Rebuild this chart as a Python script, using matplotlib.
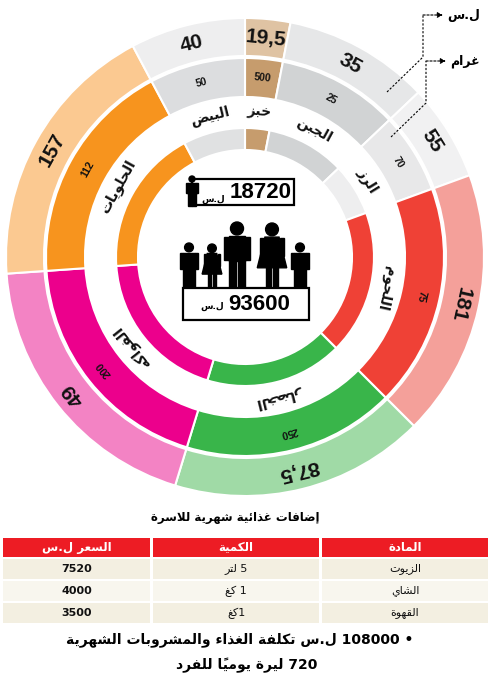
# -*- coding: utf-8 -*-

import numpy as np
import matplotlib
matplotlib.use("Agg")
import matplotlib.pyplot as plt
from matplotlib.patches import Circle, Polygon, Rectangle


W, H = 496, 676

# ring data, clockwise from the top
ITEMS = ['خبز', 'الجبن', 'الرز', 'اللحوم', 'الخضار', 'الفواكه', 'الحلويات', 'البيض']
PRICE_SYP = [19.5, 35, 55, 181, 87.5, 49, 157, 40]
GRAMS = [500, 25, 70, 75, 250, 200, 112, 50]
SHARE_DEG = [11, 35.5, 23.5, 65, 62, 69, 66, 28]

PERSON_MONTH = 18720
FAMILY_MONTH = 93600

# extras table
TABLE_HEAD = ['المادة', 'الكمية', 'السعر ل.س']
EXTRA_ITEMS = ['الزيوت', 'الشاي', 'القهوة']
EXTRA_QTY = ['5 لتر', '1 كغ', '1كغ']
EXTRA_PRICE = [7520, 4000, 3500]

TOTAL_MONTH = 108000
PER_DAY = 720

OUTER_COLORS = ['#dfc3a3', '#e6e7e8', '#f1f1f2', '#f4a09a',
                '#a0daa6', '#f383c4', '#fbc991', '#eeeeef']
MIDDLE_COLORS = ['#c69c6d', '#d1d3d4', '#e8e8e9', '#ef4136',
                 '#39b54a', '#ec008c', '#f7941e', '#dcdddf']
INNER_COLORS = ['#c69c6d', '#d1d3d4', '#eeeeef', '#ef4136',
                '#39b54a', '#ec008c', '#f7941e', '#e0e1e2']

AR_FONT = ['DejaVu Sans']
NUM_FONT = ['Liberation Sans', 'DejaVu Sans']

# --- minimal arabic shaping (matplotlib has no text shaping) ---------------
AR_FORMS = {
    'ء': (0xFE80, 1), 'آ': (0xFE81, 2), 'أ': (0xFE83, 2), 'ؤ': (0xFE85, 2),
    'إ': (0xFE87, 2), 'ئ': (0xFE89, 4), 'ا': (0xFE8D, 2), 'ب': (0xFE8F, 4),
    'ة': (0xFE93, 2), 'ت': (0xFE95, 4), 'ث': (0xFE99, 4), 'ج': (0xFE9D, 4),
    'ح': (0xFEA1, 4), 'خ': (0xFEA5, 4), 'د': (0xFEA9, 2), 'ذ': (0xFEAB, 2),
    'ر': (0xFEAD, 2), 'ز': (0xFEAF, 2), 'س': (0xFEB1, 4), 'ش': (0xFEB5, 4),
    'ص': (0xFEB9, 4), 'ض': (0xFEBD, 4), 'ط': (0xFEC1, 4), 'ظ': (0xFEC5, 4),
    'ع': (0xFEC9, 4), 'غ': (0xFECD, 4), 'ف': (0xFED1, 4), 'ق': (0xFED5, 4),
    'ك': (0xFED9, 4), 'ل': (0xFEDD, 4), 'م': (0xFEE1, 4), 'ن': (0xFEE5, 4),
    'ه': (0xFEE9, 4), 'و': (0xFEED, 2), 'ى': (0xFEEF, 2), 'ي': (0xFEF1, 4),
}
LAM_ALEF = {'آ': 0xFEF5, 'أ': 0xFEF7, 'إ': 0xFEF9, 'ا': 0xFEFB}


def shape_word(word):
    chars = []
    i = 0
    while i < len(word):
        c = word[i]
        if c == 'ل' and i + 1 < len(word) and word[i + 1] in LAM_ALEF:
            chars.append([c, (LAM_ALEF[word[i + 1]], 2), ''])
            i += 2
            continue
        if '\u064B' <= c <= '\u0652':
            if chars:
                chars[-1][2] += c
            i += 1
            continue
        chars.append([c, AR_FORMS.get(c), ''])
        i += 1

    out = []
    for k, (c, form, marks) in enumerate(chars):
        if form is None:
            out.append(c + marks)
            continue
        start, n = form
        prev = chars[k - 1][1] if k > 0 else None
        nxt = chars[k + 1][1] if k + 1 < len(chars) else None
        join_prev = prev is not None and prev[1] == 4 and n > 1
        join_next = n == 4 and nxt is not None and nxt[1] > 1
        off = {(True, True): 3, (True, False): 1,
               (False, True): 2, (False, False): 0}[(join_prev, join_next)]
        out.append(chr(start + off) + marks)
    return ''.join(reversed(out))


def ar(text):
    words = text.split(' ')
    vis = [shape_word(w) if any(ch in AR_FORMS for ch in w) else w
           for w in words]
    return ' '.join(reversed(vis))


# --- figure ---------------------------------------------------------------
fig = plt.figure(figsize=(W / 100, H / 100), dpi=100)
ax = fig.add_axes([0, 0, 1, 1])

cx, cy = 245, H - 257


def Y(y):
    return H - y


pie_kw = dict(startangle=90, counterclock=False, center=(cx, cy), frame=True)
outer, _ = ax.pie(SHARE_DEG, radius=239, colors=OUTER_COLORS,
                  wedgeprops=dict(width=38, edgecolor='white', linewidth=1.5),
                  **pie_kw)
middle, _ = ax.pie(SHARE_DEG, radius=199, colors=MIDDLE_COLORS,
                   wedgeprops=dict(width=39, edgecolor='white', linewidth=1.5),
                   **pie_kw)
inner, _ = ax.pie(SHARE_DEG, radius=129, colors=INNER_COLORS,
                  wedgeprops=dict(width=22, edgecolor='white', linewidth=1.5),
                  **pie_kw)


def ring_text(s, ang, r, **kw):
    a = np.deg2rad(ang)
    ax.text(cx + r * np.cos(a), cy + r * np.sin(a), s,
            rotation=ang - 90, rotation_mode='anchor',
            ha='center', va='center', **kw)


for w, item, price, g in zip(outer, ITEMS, PRICE_SYP, GRAMS):
    mid = (w.theta1 + w.theta2) / 2
    ring_text(f'{price:g}'.replace('.', ','), mid, 220,
              family=NUM_FONT, fontsize=15, fontweight='bold', color='#111111')
    ring_text(str(g), mid, 180,
              family=NUM_FONT, fontsize=7.5, fontweight='bold', color='#111111')
    ring_text(ar(item), mid, 145,
              family=AR_FONT, fontsize=10, fontweight='bold', color='#111111')


# --- people icons ---------------------------------------------------------
def man(x, top, h):
    ax.add_patch(Circle((x, Y(top + 0.1 * h)), 0.1 * h, color='black'))
    ax.add_patch(Rectangle((x - 0.13 * h, Y(top + 0.6 * h)), 0.26 * h, 0.38 * h,
                           color='black'))
    for s in (-1, 1):
        ax.add_patch(Rectangle((x + s * 0.165 * h - 0.035 * h, Y(top + 0.58 * h)),
                               0.07 * h, 0.35 * h, color='black'))
        ax.add_patch(Rectangle((x + (0.01 if s > 0 else -0.13) * h, Y(top + h)),
                               0.12 * h, 0.42 * h, color='black'))


def woman(x, top, h):
    ax.add_patch(Circle((x, Y(top + 0.1 * h)), 0.1 * h, color='black'))
    ax.add_patch(Polygon([(x - 0.11 * h, Y(top + 0.22 * h)),
                          (x + 0.11 * h, Y(top + 0.22 * h)),
                          (x + 0.23 * h, Y(top + 0.7 * h)),
                          (x - 0.23 * h, Y(top + 0.7 * h))], color='black'))
    for s in (-1, 1):
        ax.add_patch(Rectangle((x + s * 0.16 * h - 0.03 * h, Y(top + 0.52 * h)),
                               0.06 * h, 0.28 * h, color='black'))
        ax.add_patch(Rectangle((x + (0.02 if s > 0 else -0.09) * h, Y(top + h)),
                               0.07 * h, 0.32 * h, color='black'))


man(189, 243, 44)
woman(212, 244, 43)
man(237, 222, 65)
woman(272, 223, 64)
man(300, 243, 44)

# boxes with totals
ax.add_patch(Rectangle((192, Y(205)), 102, 26, fill=False, edgecolor='black',
                       linewidth=1.6))
man(192, 176, 30)
ax.text(261, Y(193), f'{PERSON_MONTH}', family=NUM_FONT, fontsize=16,
        fontweight='bold', ha='center', va='center')
ax.text(213, Y(199), ar('ل.س'), family=AR_FONT, fontsize=6.5,
        fontweight='bold', ha='center', va='center')

ax.add_patch(Rectangle((183, Y(320)), 126, 32, fill=False, edgecolor='black',
                       linewidth=1.6))
ax.text(259, Y(304), f'{FAMILY_MONTH}', family=NUM_FONT, fontsize=16,
        fontweight='bold', ha='center', va='center')
ax.text(212, Y(306), ar('ل.س'), family=AR_FONT, fontsize=6.5,
        fontweight='bold', ha='center', va='center')

# --- unit pointers (top right) --------------------------------------------
for (x0, y0), (xv, yv), (xa, ya), unit in [
        ((387, 92), (423, 57), (423, 15), 'ل.س'),
        ((391, 137), (426, 103), (426, 61), 'غرام')]:
    ax.plot([x0, xv, xa], [Y(y0), Y(yv), Y(ya)], color='black', lw=0.8,
            linestyle=(0, (2, 1.5)))
    ax.annotate('', xy=(xa + 20, Y(ya)), xytext=(xa, Y(ya)),
                arrowprops=dict(arrowstyle='-|>', lw=0.8, color='black',
                                linestyle=(0, (2, 1.5)), mutation_scale=8,
                                shrinkA=0, shrinkB=0))
    ax.text(xa + 24, Y(ya), ar(unit), family=AR_FONT, fontsize=9,
            fontweight='bold', ha='left', va='center')

# --- table ----------------------------------------------------------------
ax.text(235, Y(517), ar('إضافات غذائية شهرية للاسرة'), family=AR_FONT,
        fontsize=8.5, fontweight='bold', ha='center', va='center')

col_left = [322, 153, 3]
col_w = [166, 166, 147]
row_top = [538, 559, 581, 603]
row_h = [19, 20, 20, 20]
row_bg = ['#ed1c24', '#f3efe1', '#f8f6ee', '#f3efe1']

rows = [TABLE_HEAD] + [[n, q, str(p)] for n, q, p in
                       zip(EXTRA_ITEMS, EXTRA_QTY, EXTRA_PRICE)]
for r, cells in enumerate(rows):
    for c, cell in enumerate(cells):
        ax.add_patch(Rectangle((col_left[c], Y(row_top[r] + row_h[r])),
                               col_w[c], row_h[r], color=row_bg[r], lw=0))
        ax.text(col_left[c] + col_w[c] / 2, Y(row_top[r] + row_h[r] / 2),
                ar(cell), family=AR_FONT, fontsize=8.5 if r == 0 else 8,
                fontweight='bold' if (r == 0 or c == 2) else 'normal',
                color='white' if r == 0 else '#111111',
                ha='center', va='center')

ax.text(240, Y(640), ar(f'• {TOTAL_MONTH} ل.س تكلفة الغذاء والمشروبات الشهرية'),
        family=AR_FONT, fontsize=10, fontweight='bold', ha='center', va='center')
ax.text(247, Y(665), ar(f'{PER_DAY} ليرة يومياً للفرد'),
        family=AR_FONT, fontsize=10, fontweight='bold', ha='center', va='center')

ax.set_xlim(0, W)
ax.set_ylim(0, H)
ax.set_aspect('equal')
ax.axis('off')

fig.savefig('out.png', dpi=100, facecolor='white')
